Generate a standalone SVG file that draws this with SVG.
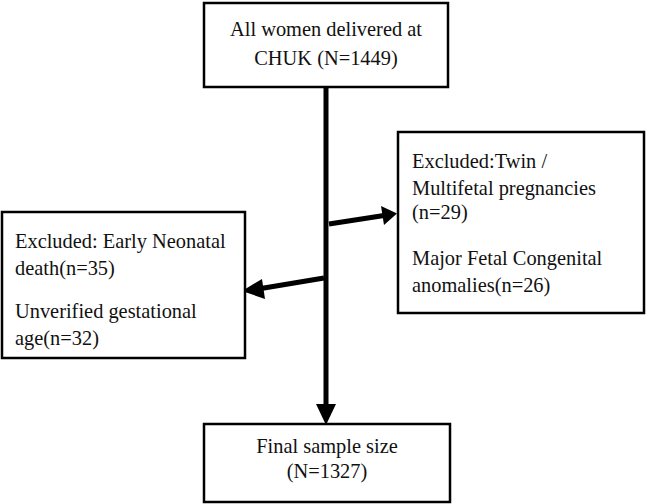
<svg xmlns="http://www.w3.org/2000/svg" width="646" height="504" viewBox="0 0 646 504">
<style>
.box{fill:#fff;stroke:#000;stroke-width:2.5}
text{font-family:"Liberation Serif","Times New Roman",serif;font-size:20.4px;fill:#111}
.c{text-anchor:middle}
.ln{stroke:#000;stroke-width:5;fill:none}
</style>
<g id="connectors">
<line class="ln" x1="326" y1="87" x2="326" y2="405"/>
<path d="M316,404 L336,404 L326,425 Z" fill="#000"/>
<line class="ln" x1="329" y1="224" x2="384" y2="215.5"/>
<path d="M381,206 L397,213.5 L384,225 Z" fill="#000"/>
<line class="ln" x1="324" y1="278" x2="258" y2="289"/>
<path d="M262,279 L242,291 L265,299 Z" fill="#000"/>
</g>
<g id="n1">
<rect class="box" x="204" y="3" width="244" height="84"/>
<text class="c" x="326" y="36">All women delivered at</text>
<text class="c" x="326" y="65">CHUK (N=1449)</text>
</g>
<g id="n2">
<rect class="box" x="2" y="212" width="243" height="146"/>
<text x="15" y="248">Excluded: Early Neonatal</text>
<text x="15" y="275">death(n=35)</text>
<text x="15" y="318">Unverified gestational</text>
<text x="15" y="345">age(n=32)</text>
</g>
<g id="n3">
<rect class="box" x="398" y="132" width="246" height="181"/>
<text x="412" y="168">Excluded:Twin /</text>
<text x="412" y="195">Multifetal pregnancies</text>
<text x="412" y="219">(n=29)</text>
<text x="412" y="265">Major Fetal Congenital</text>
<text x="412" y="292">anomalies(n=26)</text>
</g>
<g id="n4">
<rect class="box" x="204" y="424" width="246" height="78"/>
<text class="c" x="327" y="453">Final sample size</text>
<text class="c" x="327" y="478">(N=1327)</text>
</g>
</svg>
